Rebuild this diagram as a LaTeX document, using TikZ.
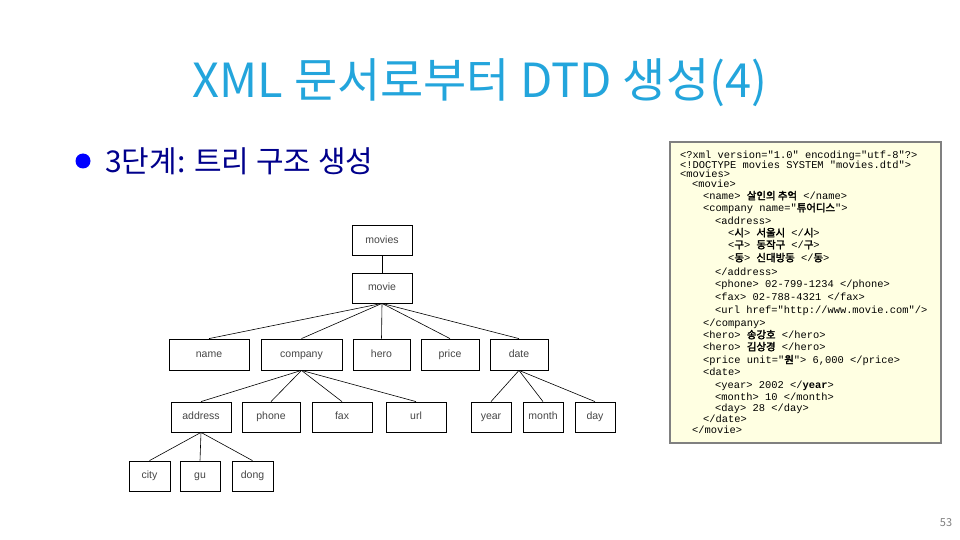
\documentclass[tikz,border=0pt]{standalone}
\usepackage{fontspec}
\setmainfont{Liberation Sans}
\newfontfamily\krfont{Noto Sans CJK KR}
\newfontfamily\krb{Noto Sans CJK KR}[FakeBold=2.5]
\newfontfamily\cmono{Liberation Mono}
\definecolor{titlecol}{RGB}{35,165,220}
\definecolor{bulletcol}{RGB}{0,0,255}
\definecolor{navy}{RGB}{0,0,140}
\definecolor{codebg}{RGB}{255,255,226}
\definecolor{codeframe}{RGB}{128,128,128}
\definecolor{treetext}{RGB}{70,70,70}
\tikzset{
  tbox/.style={draw=black, line width=0.8pt, minimum height=30pt, inner sep=0pt,
    text height=7.6pt, text depth=2.2pt,
    font=\fontsize{10.5}{12}\selectfont, text=treetext},
  tedge/.style={draw=black, line width=0.6pt},
  codeln/.style={anchor=base west, inner sep=0pt, font=\cmono\fontsize{10.4}{12}\selectfont},
}
\begin{document}
\begin{tikzpicture}[x=1pt, y=-1pt]
\useasboundingbox (0,0) rectangle (960,540);
\fill[white] (0,0) rectangle (960,540);

% title
\node[anchor=base, inner sep=0pt, text=titlecol, font=\krfont\fontsize{47}{52}\selectfont] (title) at (480,98) {XML 문서로부터 DTD 생성(4)};

% bullet
\fill[bulletcol] (83,161) circle (7.5);
\node[anchor=base west, inner sep=0pt, text=navy, font=\krfont\fontsize{30}{34}\selectfont] (sub) at (105,172) {3단계: 트리 구조 생성};

% tree
\node[tbox, minimum width=60pt] (movies) at (382,240.5) {movies};
\node[tbox, minimum width=60pt] (movie) at (382,288) {movie};
\node[tbox, minimum width=80pt, minimum height=31pt] (name) at (209,354.5) {name};
\node[tbox, minimum width=81pt, minimum height=31pt] (company) at (301.5,354.5) {company};
\node[tbox, minimum width=57pt, minimum height=31pt] (hero) at (381.5,354.5) {hero};
\node[tbox, minimum width=58pt, minimum height=31pt] (price) at (450,354.5) {price};
\node[tbox, minimum width=58pt, minimum height=31pt] (date) at (519,354.5) {date};
\node[tbox, minimum width=60pt] (address) at (201,417) {address};
\node[tbox, minimum width=58pt] (phone) at (271,417) {phone};
\node[tbox, minimum width=60pt] (fax) at (342,417) {fax};
\node[tbox, minimum width=60pt] (url) at (416,417) {url};
\node[tbox, minimum width=40pt] (year) at (491,417) {year};
\node[tbox, minimum width=40pt] (month) at (543,417) {month};
\node[tbox, minimum width=40pt] (day) at (595,417) {day};
\node[tbox, minimum width=41pt] (city) at (149.5,476) {city};
\node[tbox, minimum width=40pt] (gu) at (200,476) {gu};
\node[tbox, minimum width=41pt] (dong) at (252.5,476) {dong};

\draw[tedge] (movies.south) -- (movie.north);
\foreach \c in {name,company,hero,price,date} \draw[tedge] (movie.south) -- (\c.north);
\foreach \c in {address,phone,fax,url} \draw[tedge] (company.south) -- (\c.north);
\foreach \c in {year,month,day} \draw[tedge] (date.south) -- (\c.north);
\foreach \c in {city,gu,dong} \draw[tedge] (address.south) -- (\c.north);

% code box
\draw[fill=codebg, draw=codeframe, line width=2.5pt] (670,142) rectangle (941,443);
\node[codeln] (c1) at (680,158.5) {<?xml version="1.0" encoding="utf-8"?>};
\node[codeln] (c2) at (680,168.5) {<!DOCTYPE movies SYSTEM "movies.dtd">};
\node[codeln] (c3) at (680,177.5) {<movies>};
\node[codeln] (c4) at (692,187.5) {<movie>};
\node[codeln] (c5) at (703,199.5) {<name> {\krb 살인의 추억} </name>};
\node[codeln] (c6) at (703,211.5) {<company name="{\krb 튜어디스}">};
\node[codeln] (c7) at (715,224.5) {<address>};
\node[codeln] (c8) at (728,236.5) {<{\krb 시}> {\krb 서울시} </{\krb 시}>};
\node[codeln] (c9) at (728,248.5) {<{\krb 구}> {\krb 동작구} </{\krb 구}>};
\node[codeln] (c10) at (728,261.5) {<{\krb 동}> {\krb 신대방동} </{\krb 동}>};
\node[codeln] (c11) at (715,275.5) {</address>};
\node[codeln] (c12) at (715,287.5) {<phone> 02-799-1234 </phone>};
\node[codeln] (c13) at (715,300.5) {<fax> 02-788-4321 </fax>};
\node[codeln] (c14) at (715,313.5) {<url href="http://www.movie.com"/>};
\node[codeln] (c15) at (703,326.5) {</company>};
\node[codeln] (c16) at (703,338.5) {<hero> {\krb 송강호} </hero>};
\node[codeln] (c17) at (703,350.5) {<hero> {\krb 김상경} </hero>};
\node[codeln] (c18) at (703,363.5) {<price unit="{\krb 원}"> 6,000 </price>};
\node[codeln] (c19) at (703,375.5) {<date>};
\node[codeln] (c20) at (715,388.5) {<year> 2002 </\textbf{year}>};
\node[codeln] (c21) at (715,400.5) {<month> 10 </month>};
\node[codeln] (c22) at (715,411.5) {<day> 28 </day>};
\node[codeln] (c23) at (703,422.5) {</date>};
\node[codeln] (c24) at (692,433.5) {</movie>};

% page number
\node[anchor=base, inner sep=0pt, text=black!50, font=\krfont\fontsize{11}{12}\selectfont] (pg) at (946,526) {53};
\end{tikzpicture}
\end{document}
